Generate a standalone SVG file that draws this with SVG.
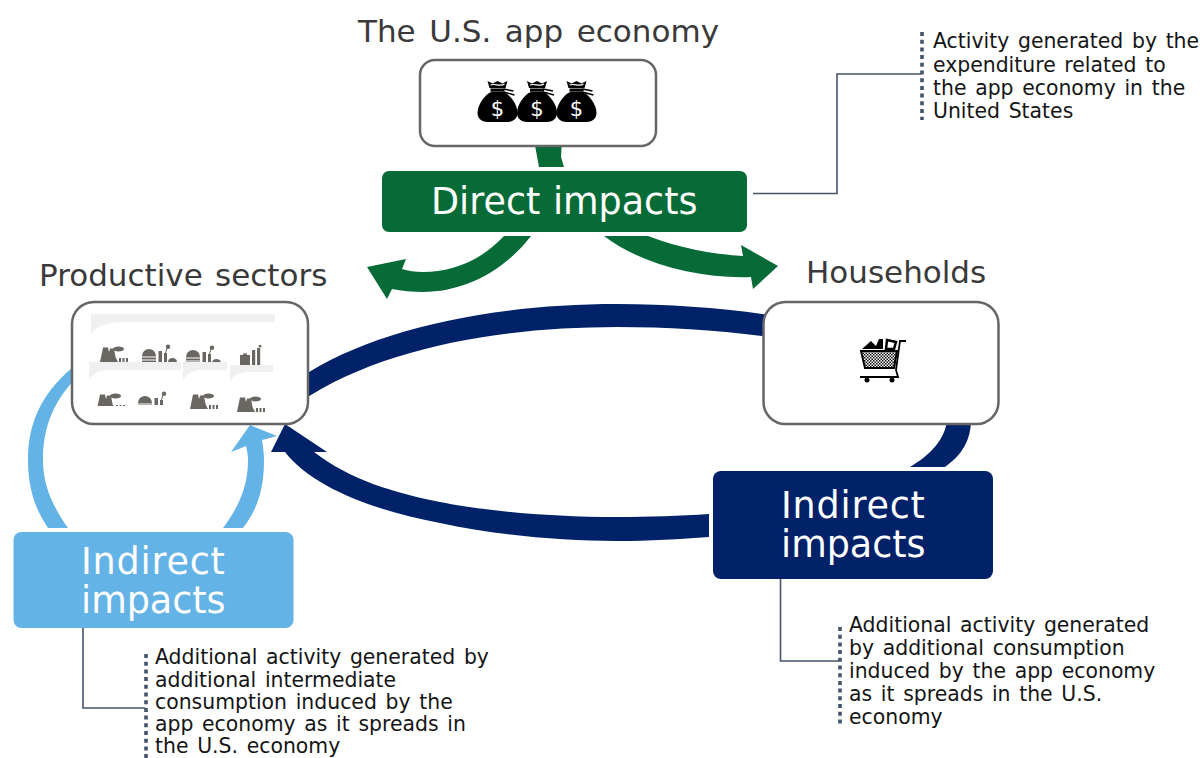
<svg xmlns="http://www.w3.org/2000/svg" width="1202" height="758" viewBox="0 0 1202 758">
<style>
text{font-family:"DejaVu Sans","Liberation Sans",sans-serif}
.title{font-size:31px;fill:#3a3a3a}
.big{font-size:36.5px;fill:#fff}
.note{font-size:20.4px;fill:#151515;word-spacing:2.2px}
.card{fill:#fff;stroke:#666;stroke-width:2.5}
.green{fill:#076b38}.navy{fill:#012169}.sky{fill:#63b3e6}
.lead{fill:none;stroke:#44546a;stroke-width:1.6}
.dots{fill:none;stroke:#44546a;stroke-width:3.6;stroke-dasharray:4 3.7}
.strip{fill:#f0f0f0}
.ico{fill:#6a6762}
</style>
<defs>
<pattern id="mesh" width="3" height="3" patternUnits="userSpaceOnUse"><rect width="3" height="3" fill="#fff"/><rect width="1.5" height="1.5" fill="#111"/><rect x="1.5" y="1.5" width="1.5" height="1.5" fill="#111"/></pattern>
<clipPath id="cutA"><rect x="-2" y="-2" width="38" height="15"/></clipPath>
<g id="factory" class="ico"><polygon points="0,16 3,1.500 8,1.500 9,6 10,3 14,3 15.500,11 18,16"/><ellipse cx="18.500" cy="3" rx="5.500" ry="2.500"/><rect x="10" y="2.500" width="6" height="1.200"/><rect x="19" y="12" width="2" height="4"/><rect x="22.500" y="12" width="2" height="4"/><rect x="26" y="12" width="2" height="4"/></g>
<g id="dome" class="ico"><path d="M0,17V11A7,7 0 0 1 14,11V17Z"/><rect x="0" y="11.500" width="14" height="1" fill="#fff"/><rect x="0" y="14.500" width="14" height="1" fill="#fff"/><rect x="16.500" y="6" width="3.500" height="11"/><rect x="22" y="8" width="3" height="9"/><circle cx="26" cy="1.700" r="2.200"/><path d="M25,3L23.500,8" stroke="#6a6762" fill="none"/><path d="M26,17a4.500,4 0 0 1 9,0Z"/></g>
<g id="plant" class="ico"><path d="M0,20V10H3V8.500H7V10H10V20Z"/><rect x="12" y="5" width="3.200" height="15"/><rect x="17" y="3" width="3.200" height="17"/><circle cx="20" cy="1.200" r="1.400"/></g>
<g id="bag"><path d="M-6,12C-12,14-20,24-20,33C-20,39-15,42-10,42H10C15,42 20,39 20,33C20,24 12,14 6,12Z"/><path d="M-10,1L-5,3.500L0,1L5,3.500L10,1L8,8H-8Z"/><rect x="-7" y="8.500" width="14" height="3.200"/><path d="M-7,5C-3,3 3,7 7,4" stroke="#fff" stroke-width="1.200" fill="none"/><path d="M6,9L16,11M6,12L17,15" stroke="#000" stroke-width="1.500" fill="none"/><text x="0" y="36" font-size="21" text-anchor="middle" fill="#fff">$</text></g>
</defs>

<g id="connectors">
<path class="green" d="M534,140L539,167H564L561,157L562,140Z"/>
<path class="green" d="M504,236C480,262 450,272 423,272C415,272 408,271 402,269L406,259L367,267L387,299L392,289C402,291 412,292 423,292C465,292 505,270 531,236Z"/>
<path class="green" d="M648,236C680,248 710,254 743,256L741,245L778,266L753,289L751,277C700,279 640,264 604,236Z"/>
<path class="navy" d="M300,378C370,330 490,304 617,304C670,304 720,308 770,315V337C715,330 670,327 617,327C500,327 380,348 300,402Z"/>
<path class="navy" d="M947,420C945,440 930,455 910,467H945C962,455 971,440 971,420Z"/>
<path class="navy" d="M709,514C680,516 650,517 617,517C545,517 480,510 440,502C395,493 350,480 314,452H327L285,424L271,452H285C310,485 370,510 440,523C495,535 560,541 617,541C650,541 680,539 709,537Z"/>
<path class="sky" d="M72,368C40,395 28,425 28,460C28,490 36,510 48,528H68C52,505 43,485 43,460C43,425 55,400 76,378Z"/>
<path class="sky" d="M223,528C240,505 248,485 248,460C248,455 247,450 246,446L231,452L250,425L277,436L262,440C263,447 264,453 264,460C264,490 257,510 243,528Z"/>
<path class="lead" d="M753,193.500H837V74H921"/>
<path class="lead" d="M780.500,579V661H839"/>
<path class="lead" d="M83,624V708H145"/>
</g>

<g id="app-economy">
<text class="title" x="358" y="42" word-spacing="3.7">The U.S. app economy</text>
<rect class="card" x="420" y="60" width="236" height="86" rx="15"/>
<use href="#bag" x="497.500" y="80"/><use href="#bag" x="537" y="80"/><use href="#bag" x="576.500" y="80"/>
</g>

<g id="direct-impacts">
<rect class="green" x="382" y="171" width="365" height="61" rx="7"/>
<text class="big" x="431" y="214" word-spacing="1">Direct impacts</text>
</g>

<g id="productive-sectors">
<text class="title" x="39" y="285.500" word-spacing="2.500">Productive sectors</text>
<rect class="card" x="72" y="302" width="236" height="122" rx="22"/>
<path class="strip" d="M91,314H275V322H124C108,322 96,326 91,334Z"/>
<use href="#factory" x="100" y="346"/><use href="#dome" x="142" y="345"/><use href="#dome" x="186" y="346"/><use href="#plant" x="240" y="345"/>
<path fill="#fff" d="M89,362H229V368H89Z"/>
<path class="strip" d="M89,362H181V370H112C100,370 93,373 89,380Z"/>
<path class="strip" d="M183,362H227V370H200C193,370 187,374 183,380Z"/>
<path class="strip" d="M230,365H273V372H248C240,372 234,375 230,381Z"/>
<g clip-path="url(#cutA)" transform="translate(97,393)"><use href="#factory"/></g>
<g clip-path="url(#cutA)" transform="translate(138,392)"><use href="#dome"/></g>
<use href="#factory" x="190" y="393"/><use href="#factory" x="237" y="396"/>
</g>

<g id="households">
<text class="title" x="806" y="283">Households</text>
<rect class="card" x="763.500" y="302" width="235" height="122" rx="22"/>
<path fill="url(#mesh)" stroke="#000" stroke-width="2" d="M861,351H897L894,368H865Z"/>
<path fill="#000" d="M862,349L871,341L876,346L879,339H883V349Z"/>
<path fill="#fff" stroke="#000" stroke-width="2.500" d="M887,340L896,342L894,349H886Z"/>
<path fill="none" stroke="#000" stroke-width="1.800" d="M906,341H900L896,370L898,377H860"/>
<circle cx="867" cy="380" r="2.500"/><circle cx="892" cy="380" r="2.500"/>
</g>

<g id="indirect-households">
<rect class="navy" x="713" y="471" width="280" height="108" rx="8"/>
<text class="big" x="781" y="518" letter-spacing="0.800">Indirect</text>
<text class="big" x="781" y="557">impacts</text>
</g>

<g id="indirect-sectors">
<rect class="sky" x="13.500" y="532" width="280" height="96" rx="8"/>
<text class="big" x="81" y="574" letter-spacing="0.800">Indirect</text>
<text class="big" x="81" y="613">impacts</text>
</g>

<g id="note-direct">
<path class="dots" d="M922,32V120"/>
<text class="note" x="933" y="48">Activity generated by the</text>
<text class="note" x="933" y="71.500">expenditure related to</text>
<text class="note" x="933" y="95">the app economy in the</text>
<text class="note" x="933" y="118">United States</text>
</g>

<g id="note-households">
<path class="dots" d="M840,627V725"/>
<text class="note" x="849" y="632">Additional activity generated</text>
<text class="note" x="849" y="655">by additional consumption</text>
<text class="note" x="849" y="678">induced by the app economy</text>
<text class="note" x="849" y="701">as it spreads in the U.S.</text>
<text class="note" x="849" y="724">economy</text>
</g>

<g id="note-sectors">
<path class="dots" d="M146,654V758"/>
<text class="note" x="155" y="664">Additional activity generated by</text>
<text class="note" x="155" y="686.500">additional intermediate</text>
<text class="note" x="155" y="709">consumption induced by the</text>
<text class="note" x="155" y="731">app economy as it spreads in</text>
<text class="note" x="155" y="753">the U.S. economy</text>
</g>
</svg>
